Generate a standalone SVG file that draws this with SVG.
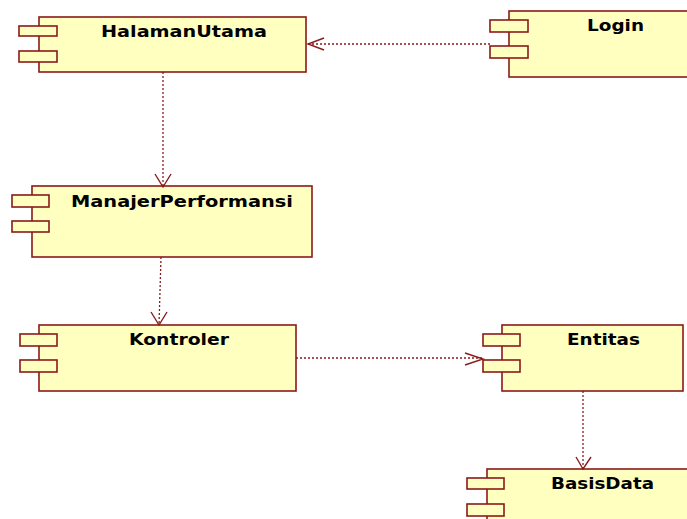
<svg xmlns="http://www.w3.org/2000/svg" width="687" height="519" viewBox="0 0 687 519">
<style>
.box{fill:#ffffc0;stroke:#8b1a1a;stroke-width:1.6}
.port{fill:#ffffc0;stroke:#8b1a1a;stroke-width:1.6}
.lbl{font-family:"DejaVu Sans",Verdana,sans-serif;font-weight:bold;font-size:15px;fill:#000}
.dep{fill:none;stroke:#8b1a1a;stroke-width:1.3;stroke-dasharray:2,2}
.head{fill:none;stroke:#8b1a1a;stroke-width:1.4}
</style>
<rect width="687" height="519" fill="#fff"/>
<g id="HalamanUtama">
<rect class="box" x="39" y="17" width="267" height="55"/>
<rect class="port" x="19" y="26" width="38" height="10"/>
<rect class="port" x="19" y="51" width="38" height="11"/>
<text class="lbl" x="101" y="37" textLength="166" lengthAdjust="spacingAndGlyphs">HalamanUtama</text>
</g>
<g id="Login">
<rect class="box" x="509" y="11" width="185" height="66"/>
<rect class="port" x="490" y="20" width="38" height="12"/>
<rect class="port" x="490" y="46" width="38" height="12"/>
<text class="lbl" x="587" y="31" textLength="57" lengthAdjust="spacingAndGlyphs">Login</text>
</g>
<g id="ManajerPerformansi">
<rect class="box" x="32" y="186" width="280" height="71"/>
<rect class="port" x="12" y="195" width="37" height="12"/>
<rect class="port" x="12" y="221" width="37" height="11"/>
<text class="lbl" x="71" y="207" textLength="222" lengthAdjust="spacingAndGlyphs">ManajerPerformansi</text>
</g>
<g id="Kontroler">
<rect class="box" x="39" y="325" width="257" height="66"/>
<rect class="port" x="20" y="334" width="37" height="12"/>
<rect class="port" x="20" y="360" width="37" height="12"/>
<text class="lbl" x="129" y="345" textLength="100" lengthAdjust="spacingAndGlyphs">Kontroler</text>
</g>
<g id="Entitas">
<rect class="box" x="502" y="325" width="181" height="66"/>
<rect class="port" x="483" y="334" width="37" height="12"/>
<rect class="port" x="483" y="360" width="37" height="12"/>
<text class="lbl" x="567" y="345" textLength="73" lengthAdjust="spacingAndGlyphs">Entitas</text>
</g>
<g id="BasisData">
<rect class="box" x="487" y="469" width="210" height="60"/>
<rect class="port" x="467" y="478" width="37" height="11"/>
<rect class="port" x="467" y="504" width="37" height="12"/>
<text class="lbl" x="551" y="489" textLength="103" lengthAdjust="spacingAndGlyphs">BasisData</text>
</g>
<g id="connectors">
<line class="dep" x1="490" y1="44" x2="308" y2="44"/>
<polyline class="head" points="324,38 308,44 324,50"/>
<line class="dep" x1="163" y1="72" x2="163" y2="186"/>
<polyline class="head" points="155,174 163,187 171,174"/>
<line class="dep" x1="161" y1="257" x2="159" y2="325"/>
<polyline class="head" points="151,312 159,325 167,312"/>
<line class="dep" x1="296" y1="358" x2="483" y2="358"/>
<polyline class="head" points="465,353 483,359 465,365"/>
<line class="dep" x1="583" y1="391" x2="583" y2="469"/>
<polyline class="head" points="576,457 583,469 591,457"/>
</g>
</svg>
